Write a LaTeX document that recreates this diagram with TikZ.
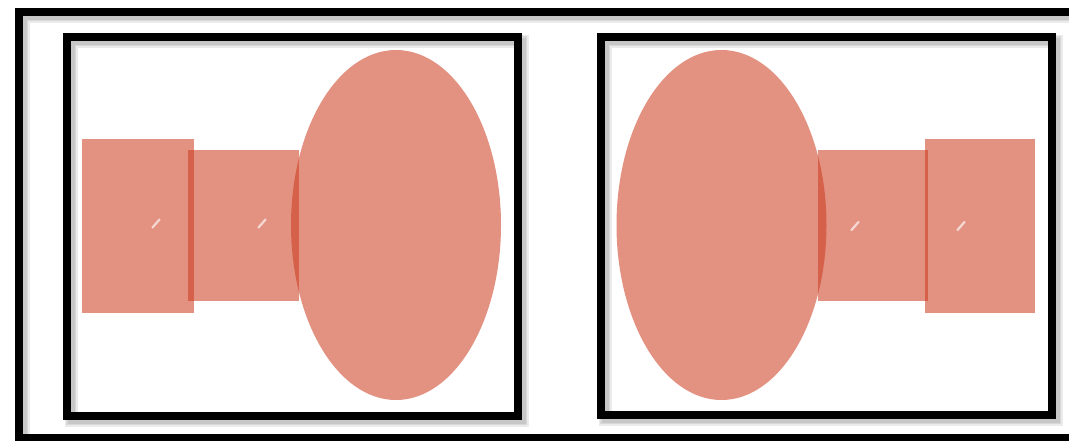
\documentclass[tikz,border=0pt]{standalone}
\usetikzlibrary{shapes.geometric}
\definecolor{salmon}{RGB}{204,57,28}
\tikzset{
  frameline/.style={draw=black,line width=8pt},
  shadowline/.style={draw=black,draw opacity=0.08},
  blob/.style={fill=salmon,fill opacity=0.55,draw=none},
  glint/.style={draw=white,draw opacity=0.65,line width=2.2pt,line cap=round}
}
\begin{document}
\begin{tikzpicture}[x=1pt,y=-1pt]
\useasboundingbox (0,0) rectangle (1069,440);
\fill[white] (0,0) rectangle (1069,440);
% shadows
\foreach \w in {13,10,7} {
  \draw[shadowline,line width=\w pt] (23,16) rectangle (1078,442);
  \draw[shadowline,line width=\w pt] (71,41) rectangle (522,420);
  \draw[shadowline,line width=\w pt] (605,41) rectangle (1056,419);
}
% frames
\draw[frameline,line width=7.5pt] (19,12) rectangle (1074,438);
\draw[frameline] (67,37) rectangle (518,416);
\draw[frameline] (601,37) rectangle (1052,415);
% left group
\fill[blob] (81.5,139) rectangle (194.3,313);
\fill[blob] (188.3,150) rectangle (299,301);
\fill[blob] (396,225) ellipse [x radius=105, y radius=175];
\draw[glint] (152.5,227.5) -- (159.5,219.5);
\draw[glint] (258.5,227.5) -- (265.5,219.5);
% right group
\fill[blob] (721.5,225) ellipse [x radius=105, y radius=175];
\fill[blob] (818,150) rectangle (927.7,301);
\fill[blob] (925,139) rectangle (1035,313);
\draw[glint] (851.5,230) -- (858.5,222);
\draw[glint] (957.5,230) -- (964.5,222);
\end{tikzpicture}
\end{document}
